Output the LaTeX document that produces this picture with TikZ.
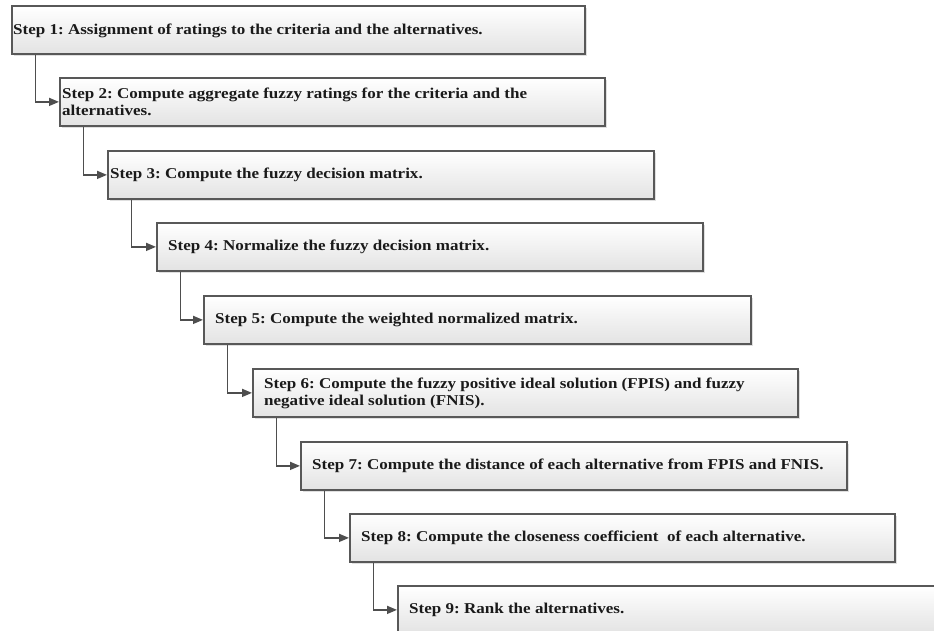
\documentclass[tikz,border=0pt]{standalone}
\usepackage{fontspec}
\setmainfont{Liberation Serif}
\newfontfamily\stepfont[FakeStretch=1.135]{Liberation Serif}
\usetikzlibrary{arrows.meta,shadows,calc}
\definecolor{edgegray}{HTML}{585858}
\definecolor{linegray}{HTML}{4E4E4E}
\definecolor{textblack}{HTML}{1A1A1A}
\frenchspacing
\begin{document}
\begin{tikzpicture}[x=1pt,y=-1pt,
  stepbox/.style={draw=edgegray, line width=1.8pt, top color=white, bottom color=black!11,
    drop shadow={opacity=0.25, shadow xshift=2.2pt, shadow yshift=-2.2pt},
    minimum height=48pt, inner sep=0pt, anchor=north west},
  steptext/.style={anchor=west, inner sep=0pt, align=left,
    font=\stepfont\fontsize{15}{17}\selectfont\bfseries, text=textblack},
  conn/.style={draw=linegray, line width=1.6pt, -{Triangle[length=10pt,width=8pt]}}]
\useasboundingbox (0,0) rectangle (934,631);
\clip (0,0) rectangle (934,631);

\node[stepbox, minimum width=573pt] (s1) at (11,5) {};
\node[stepbox, minimum width=545pt] (s2) at (59,77) {};
\node[stepbox, minimum width=546pt] (s3) at (107,150) {};
\node[stepbox, minimum width=546pt] (s4) at (156,222) {};
\node[stepbox, minimum width=547pt] (s5) at (203,295) {};
\node[stepbox, minimum width=545pt] (s6) at (252,368) {};
\node[stepbox, minimum width=546pt] (s7) at (300,441) {};
\node[stepbox, minimum width=545pt] (s8) at (349,513) {};
\node[stepbox, minimum width=570pt] (s9) at (397,585) {};

\node[steptext] (t1) at ($(s1.west)+(2pt,-1pt)$) {Step 1: Assignment of ratings to the criteria and the alternatives.};
\node[steptext] (t2) at ($(s2.west)+(3pt,0)$) {Step 2: Compute aggregate fuzzy ratings for the criteria and the\\alternatives.};
\node[steptext] (t3) at ($(s3.west)+(3pt,0)$) {Step 3: Compute the fuzzy decision matrix.};
\node[steptext] (t4) at ($(s4.west)+(12pt,0)$) {Step 4: Normalize the fuzzy decision matrix.};
\node[steptext] (t5) at ($(s5.west)+(12pt,0)$) {Step 5: Compute the weighted normalized matrix.};
\node[steptext] (t6) at ($(s6.west)+(12pt,0)$) {Step 6: Compute the fuzzy positive ideal solution (FPIS) and fuzzy\\negative ideal solution (FNIS).};
\node[steptext] (t7) at ($(s7.west)+(12pt,0)$) {Step 7: Compute the distance of each alternative from FPIS and FNIS.};
\node[steptext] (t8) at ($(s8.west)+(12pt,0)$) {Step 8: Compute the closeness coefficient~ of each alternative.};
\node[steptext] (t9) at ($(s9.west)+(12pt,0)$) {Step 9: Rank the alternatives.};

\draw[conn] ($(s1.south west)+(24.5pt,0)$) |- (s2.west);
\draw[conn] ($(s2.south west)+(24.5pt,0)$) |- (s3.west);
\draw[conn] ($(s3.south west)+(24.5pt,0)$) |- (s4.west);
\draw[conn] ($(s4.south west)+(24.5pt,0)$) |- (s5.west);
\draw[conn] ($(s5.south west)+(24.5pt,0)$) |- (s6.west);
\draw[conn] ($(s6.south west)+(24.5pt,0)$) |- (s7.west);
\draw[conn] ($(s7.south west)+(24.5pt,0)$) |- (s8.west);
\draw[conn] ($(s8.south west)+(24.5pt,0)$) |- (s9.west);
\end{tikzpicture}
\end{document}
